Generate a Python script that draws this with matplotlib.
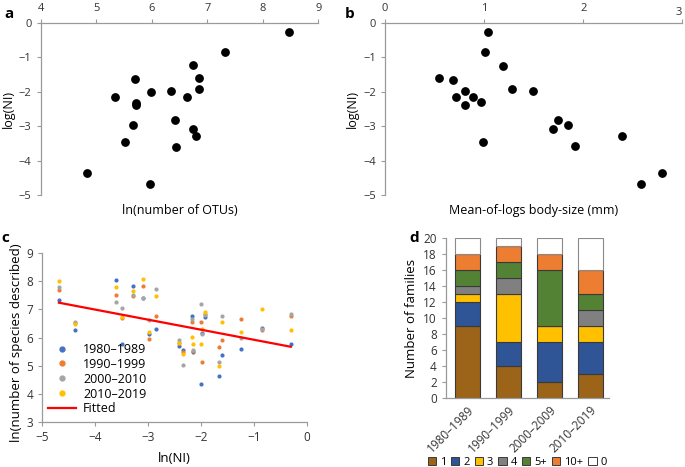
import matplotlib.pyplot as plt
from matplotlib.patches import Patch
from matplotlib.lines import Line2D

plt.rcParams['font.family'] = ['Open Sans', 'DejaVu Sans']

# panel a: ln(number of OTUs) vs log(NI)
a_x = [8.48, 7.32, 6.74, 6.85, 5.70, 6.86, 5.99, 6.35, 5.34, 6.63,
       5.71, 5.71, 6.41, 5.67, 6.74, 6.80, 5.52, 6.44, 4.84, 5.97]
a_y = [-0.28, -0.84, -1.23, -1.59, -1.64, -1.93, -2.01, -1.98, -2.14, -2.14,
       -2.32, -2.39, -2.81, -2.97, -3.09, -3.28, -3.45, -3.59, -4.36, -4.66]

# panel b: mean-of-logs body size vs log(NI)
b_x = [1.04, 1.01, 1.19, 0.55, 0.69, 1.28, 1.49, 0.81, 0.72, 0.89,
       0.81, 0.97, 1.75, 1.85, 1.70, 2.39, 0.99, 1.92, 2.80, 2.58]
b_y = [-0.27, -0.85, -1.24, -1.60, -1.66, -1.93, -1.98, -1.98, -2.15, -2.15,
       -2.39, -2.31, -2.81, -2.97, -3.08, -3.29, -3.45, -3.58, -4.36, -4.66]

# panel c: ln(NI) vs ln(number of species described), per decade
c_x = [-4.68, -4.38, -3.60, -3.48, -3.29, -3.10, -2.98, -2.84, -2.41, -2.33,
       -2.16, -2.15, -2.00, -1.98, -1.93, -1.66, -1.60, -1.25, -0.85, -0.30]
c_1980 = [7.33, 6.27, 8.05, 5.76, 7.85, 7.40, 6.14, 6.29, 5.69, 5.56,
          6.78, 5.47, 4.35, 6.17, 6.74, 4.63, 5.38, 5.58, 6.33, 5.78]
c_1990 = [7.71, 6.50, 7.50, 6.70, 7.47, 7.85, 5.96, 6.76, 5.80, 5.50,
          6.54, 5.52, 6.57, 5.14, 6.82, 5.66, 5.92, 6.67, 6.27, 6.78]
c_2000 = [7.81, 6.54, 7.25, 7.05, 7.50, 7.42, 6.61, 7.72, 5.92, 5.02,
          6.66, 5.55, 7.18, 6.12, 6.80, 5.12, 6.76, 5.98, 6.30, 6.83]
c_2010 = [8.01, 6.47, 7.80, 6.74, 7.67, 8.09, 6.20, 7.49, 5.80, 5.41,
          6.03, 5.78, 5.76, 6.30, 6.91, 4.97, 6.54, 6.20, 7.02, 6.26]
decades_c = ['1980–1989', '1990–1999', '2000–2010', '2010–2019']
colors_c = ['#4472C4', '#ED7D31', '#A5A5A5', '#FFC000']
fit_x = [-4.68, -0.30]
fit_y = [7.24, 5.67]

# panel d: number of families per decade, stacked by category
decades_d = ['1980–1989', '1990–1999', '2000–2009', '2010–2019']
cats = ['1', '2', '3', '4', '5+', '10+', '0']
counts = {
    '1':   [9, 4, 2, 3],
    '2':   [3, 3, 5, 4],
    '3':   [1, 6, 2, 2],
    '4':   [1, 2, 0, 2],
    '5+':  [2, 2, 7, 2],
    '10+': [2, 2, 2, 3],
    '0':   [2, 1, 2, 4],
}
colors_d = ['#9C6419', '#2F5597', '#FFC000', '#808080', '#548235', '#ED7D31', '#FFFFFF']

spine_c = '#9a9a9a'

fig = plt.figure(figsize=(6.85, 4.67), dpi=100)


def style(ax, keep):
    for s in ['top', 'bottom', 'left', 'right']:
        ax.spines[s].set_visible(s in keep)
        ax.spines[s].set_color(spine_c)
        ax.spines[s].set_linewidth(0.9)
    ax.tick_params(colors=spine_c, labelcolor='#333333', length=3, width=0.8)


# a
ax = fig.add_axes([0.0594, 0.5818, 0.4053, 0.3696])
ax.scatter(a_x, a_y, s=28, color='black', zorder=3)
ax.set_xlim(4, 9)
ax.set_ylim(-5, 0)
ax.xaxis.tick_top()
style(ax, ['top', 'left'])
ax.tick_params(labelsize=8)
ax.set_xlabel('ln(number of OTUs)', fontsize=9, labelpad=6)
ax.set_ylabel('log(NI)', fontsize=9, labelpad=3)
fig.text(0.006, 0.985, 'a', fontsize=11, fontweight='bold', va='top')

# b
ax = fig.add_axes([0.562, 0.5818, 0.434, 0.3696])
ax.scatter(b_x, b_y, s=28, color='black', zorder=3)
ax.set_xlim(0, 3)
ax.set_ylim(-5, 0)
ax.xaxis.tick_top()
style(ax, ['top', 'left'])
ax.tick_params(labelsize=8)
ax.set_xticks([0, 1, 2, 3])
ax.set_xticklabels(['0', '1', '2', ''])
ax.text(3.0, 1.025, '3', transform=ax.get_xaxis_transform(), fontsize=8,
        color='#333333', ha='right', va='bottom')
ax.set_xlabel('Mean-of-logs body-size (mm)', fontsize=9, labelpad=6)
ax.set_ylabel('log(NI)', fontsize=9, labelpad=3)
fig.text(0.503, 0.985, 'b', fontsize=11, fontweight='bold', va='top')

# c
ax = fig.add_axes([0.0613, 0.097, 0.3864, 0.3606])
for ys, lab, col in zip([c_1980, c_1990, c_2000, c_2010], decades_c, colors_c):
    ax.scatter(c_x, ys, s=9, color=col, label=lab, zorder=3, linewidths=0)
ax.plot(fit_x, fit_y, color='#FF0000', lw=1.6, label='Fitted', zorder=4)
ax.set_xlim(-5, 0)
ax.set_ylim(3, 9)
style(ax, ['bottom', 'left'])
ax.tick_params(labelsize=8.5)
ax.set_xlabel('ln(NI)', fontsize=9.5, labelpad=6)
ax.set_ylabel('ln(number of species described)', fontsize=9.5)
ax.yaxis.set_label_coords(-0.07, 0.47)
handles = [Line2D([], [], marker='o', ls='', color=c, markersize=3.5) for c in colors_c]
handles.append(Line2D([], [], color='#FF0000', lw=1.6))
ax.legend(handles, decades_c + ['Fitted'], loc='lower left', frameon=False,
          fontsize=9, handlelength=2.2, handletextpad=0.6, labelspacing=0.15,
          borderaxespad=0.1)
fig.text(0.002, 0.505, 'c', fontsize=11, fontweight='bold', va='top')

# d
ax = fig.add_axes([0.651, 0.1471, 0.2385, 0.3439])
bottom = [0] * len(decades_d)
for cat, col in zip(cats, colors_d):
    vals = counts[cat]
    ax.bar(range(len(decades_d)), vals, 0.61, bottom=bottom, color=col,
           edgecolor='#3a3a3a' if cat != '0' else '#8a8a8a', linewidth=0.8, label=cat)
    bottom = [b + v for b, v in zip(bottom, vals)]
ax.set_xlim(-0.53, 3.47)
ax.set_ylim(0, 20)
ax.set_yticks(range(0, 21, 2))
ax.set_xticks(range(len(decades_d)))
ax.set_xticklabels(decades_d, rotation=45, ha='right', rotation_mode='anchor')
style(ax, ['bottom', 'left'])
ax.tick_params(axis='x', length=0, labelsize=8.5)
ax.tick_params(axis='y', labelsize=8.5)
ax.set_ylabel('Number of families', fontsize=9.5, labelpad=4)
fig.text(0.597, 0.505, 'd', fontsize=11, fontweight='bold', va='top')

leg_handles = [Patch(facecolor=c, edgecolor='#3a3a3a', linewidth=0.7) for c in colors_d]
fig.legend(leg_handles, cats, loc='center', bbox_to_anchor=(0.755, 0.01),
           ncol=7, frameon=False, fontsize=8, handlelength=0.75, handleheight=0.75,
           handletextpad=0.35, columnspacing=0.45, borderpad=0.2)

fig.savefig('out.png', dpi=100)
